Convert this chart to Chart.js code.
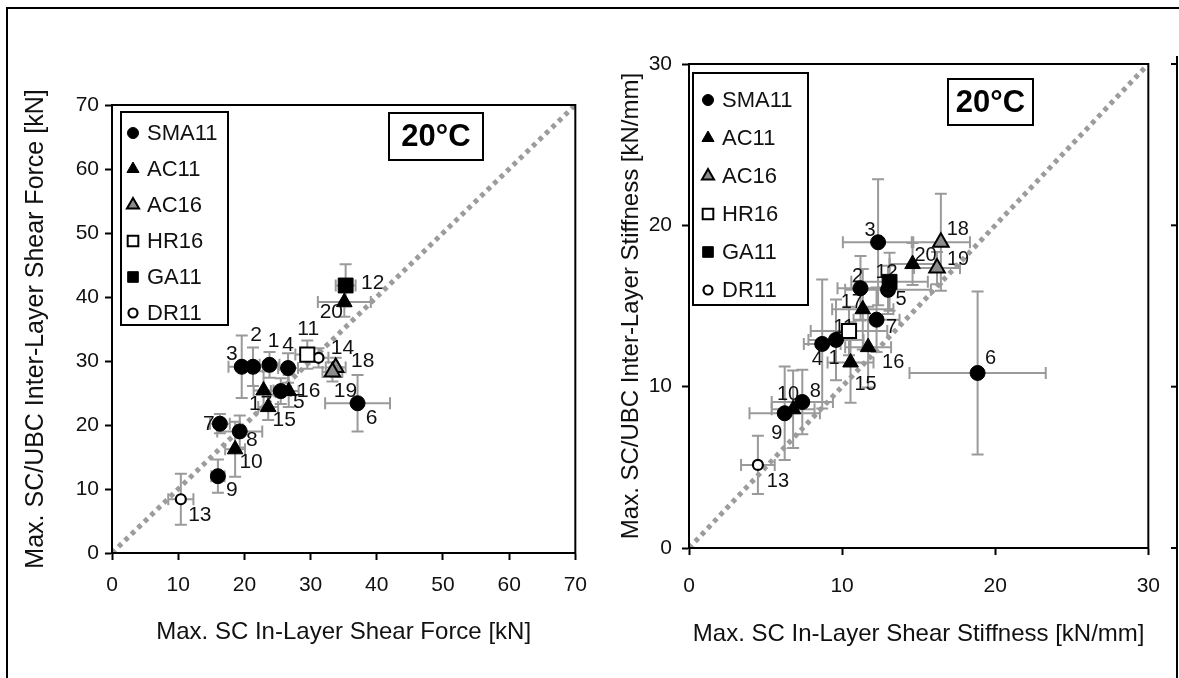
<!DOCTYPE html>
<html><head><meta charset="utf-8">
<script src="https://cdn.jsdelivr.net/npm/chart.js@4.4.1/dist/chart.umd.min.js"></script>
<style>
html,body{margin:0;padding:0;background:#fff;}
body{width:1179px;height:678px;position:relative;overflow:hidden;}
#c1{position:absolute;left:0;top:0;}
#c2{position:absolute;left:600px;top:0;}
.frame{position:absolute;left:6px;top:7px;width:1300px;height:800px;border-left:2px solid #000;border-top:2px solid #000;}
</style></head><body>
<div class="frame"></div>
<canvas id="c1" width="600" height="678" style="width:600px;height:678px"></canvas>
<canvas id="c2" width="579" height="678" style="width:579px;height:678px"></canvas>
<script>
// ---------------- DATA ----------------
const seriesNames = ['SMA11','AC11','AC16','HR16','GA11','DR11'];
const pointIds    = [1,2,3,4,5,6,7,8,9,10,11,12,13,14,15,16,17,18,19,20];
const pointGroups = ['SMA11','SMA11','SMA11','SMA11','SMA11','SMA11','SMA11','SMA11','SMA11','AC11',
                     'HR16','GA11','DR11','DR11','AC11','AC11','AC11','AC16','AC16','AC11'];

// Left panel: max shear force [kN]
const forceX    = [23.8,21.3,19.6,26.6,25.5,37.1,16.3,19.3,16.0,18.6,29.5,35.3,10.4,31.2,23.6,26.7,22.9,33.8,33.3,35.1];
const forceY    = [29.4,29.1,29.1,28.9,25.3,23.4,20.2,19.0,12.0,16.2,31.0,41.8, 8.4,30.5,22.8,25.3,25.4,29.0,28.3,39.2];
const forceXErr = [1.5,1.5,2.0,1.5,1.5,4.9,1.5,3.4,1.0,1.5,1.8,1.5,1.9,1.5,1.5,1.5,1.5,1.5,1.5,4.0];
const forceYErr = [2.0,3.0,4.9,2.3,2.0,4.4,1.5,2.5,2.6,4.3,2.2,3.3,4.0,1.5,2.0,2.5,3.0,1.5,1.5,2.3];

// Right panel: max shear stiffness [kN/mm]
const stiffX    = [9.6,11.2,12.35,8.7,13.0,18.85,12.25,7.4,6.25,6.8,10.45,13.1,4.5,null,10.55,11.7,11.35,16.45,16.2,14.6];
const stiffY    = [12.9,16.1,18.95,12.65,16.0,10.85,14.15,9.05,8.35,8.6,13.45,16.5,5.15,null,11.5,12.45,14.8,18.95,17.35,17.6];
const stiffXErr = [1.8,1.5,2.3,1.2,2.8,4.45,1.5,2.0,2.3,1.4,2.5,2.5,1.1,null,1.5,1.5,2.0,1.9,1.5,1.5];
const stiffYErr = [2.5,2.0,3.9,4.0,1.5,5.05,2.0,2.0,2.9,2.4,1.5,1.8,1.8,null,2.5,2.5,2.5,3.0,1.0,1.3];

const forceTicks = [0,10,20,30,40,50,60,70];
const stiffTicks = [0,10,20,30];
const tempLabel = '20°C';

// ---------------- STYLE ----------------
const FONT = '"Liberation Sans", Arial, Helvetica, sans-serif';
const GROUP_STYLE = {
  SMA11:{ps:'circle',  r:7.5, bg:'#000',    bd:'#000', bw:1,   lr:5.5},
  AC11: {ps:'triangle',r:9,   bg:'#000',    bd:'#000', bw:1,   lr:7},
  AC16: {ps:'triangle',r:9,   bg:'#8c8c8c', bd:'#000', bw:2,   lr:7},
  HR16: {ps:'rect',    r:10,  bg:'#fff',    bd:'#000', bw:2,   lr:7.5},
  GA11: {ps:'rect',    r:10.5,bg:'#000',    bd:'#000', bw:1,   lr:7.5},
  DR11: {ps:'circle',  r:5,   bg:'#fff',    bd:'#000', bw:2.2, lr:4.5}
};
const leftLabelOffsets = {1:[4,-24],2:[3,-32],3:[-10,-13],4:[0,-23],5:[18,11],6:[14,15],7:[-11,0],8:[12,9],
  9:[14,14],10:[16,13],11:[1,-25],12:[27,-2],13:[19,16],14:[24,-10],15:[16,13],16:[20,0],17:[-3,14],
  18:[27,-6],19:[13,19],20:[-13,10]};
const rightLabelOffsets = {1:[-2,19],2:[-3,-12],3:[-8,-12],4:[-5,16],5:[13,10],6:[13,-14],7:[15,8],8:[13,-11],
  9:[-8,20],10:[-5,-15],11:[-5,-4],12:[-3,-9],13:[20,17],15:[15,22],16:[25,15],17:[-11,-7],18:[17,-13],
  19:[21,-9],20:[13,-9]};

function buildDatasets(xs, ys, xe, ye, max){
  const sets = seriesNames.map(name => {
    const st = GROUP_STYLE[name];
    const data = [];
    pointIds.forEach((id,i) => {
      if (pointGroups[i] === name && xs[i] !== null && ys[i] !== null)
        data.push({x:xs[i], y:ys[i], xe:xe[i], ye:ye[i], id:id});
    });
    return {label:name, type:'scatter', data, isPoints:true, order:0,
      pointStyle:st.ps, pointRadius:st.r, pointHoverRadius:st.r,
      backgroundColor:st.bg, borderColor:st.bd, borderWidth:st.bw};
  });
  sets.push({label:'1:1', type:'line', data:[{x:0,y:0},{x:max,y:max}], order:5,
    borderColor:'#9c9c9c', borderWidth:5, borderDash:[4.5,4.5], pointRadius:0, fill:false});
  return sets;
}

const panelPlugin = {
  id:'panelPlugin',
  beforeDatasetsDraw(chart){
    const o = chart.options.plugins.panelPlugin;
    const {ctx, scales:{x,y}} = chart;
    ctx.save();
    // error bars
    ctx.strokeStyle = '#9a9a9a'; ctx.lineWidth = 2;
    const c = 6;
    chart.data.datasets.forEach(ds => {
      if (!ds.isPoints) return;
      ds.data.forEach(p => {
        const px = x.getPixelForValue(p.x), py = y.getPixelForValue(p.y);
        const x0 = x.getPixelForValue(p.x - p.xe), x1 = x.getPixelForValue(p.x + p.xe);
        const y0 = y.getPixelForValue(p.y - p.ye), y1 = y.getPixelForValue(p.y + p.ye);
        ctx.beginPath();
        ctx.moveTo(x0,py); ctx.lineTo(x1,py);
        ctx.moveTo(x0,py-c); ctx.lineTo(x0,py+c);
        ctx.moveTo(x1,py-c); ctx.lineTo(x1,py+c);
        ctx.moveTo(px,y0); ctx.lineTo(px,y1);
        ctx.moveTo(px-c,y0); ctx.lineTo(px+c,y0);
        ctx.moveTo(px-c,y1); ctx.lineTo(px+c,y1);
        ctx.stroke();
      });
    });
    // point id labels
    ctx.fillStyle = '#111'; ctx.font = o.labelFont + 'px ' + FONT;
    ctx.textAlign = 'center'; ctx.textBaseline = 'middle';
    chart.data.datasets.forEach(ds => {
      if (!ds.isPoints) return;
      ds.data.forEach(p => {
        const off = o.offsets[p.id] || [12,12];
        ctx.fillText(String(p.id), x.getPixelForValue(p.x) + off[0], y.getPixelForValue(p.y) + off[1]);
      });
    });
    ctx.restore();
  },
  afterDraw(chart){
    const o = chart.options.plugins.panelPlugin;
    const {ctx, chartArea:a} = chart;
    ctx.save();
    // plot frame
    ctx.strokeStyle = '#000'; ctx.lineWidth = 2;
    ctx.strokeRect(a.left, a.top, a.right - a.left, a.bottom - a.top);
    // legend
    const L = o.legend;
    const bx = a.left + L.x, by = a.top + L.y;
    ctx.fillStyle = '#fff'; ctx.fillRect(bx, by, L.w, L.h);
    ctx.strokeStyle = '#000'; ctx.lineWidth = 2; ctx.strokeRect(bx, by, L.w, L.h);
    seriesNames.forEach((name, i) => {
      const st = GROUP_STYLE[name];
      const cy = by + L.first + i * L.gap;
      ctx.save();
      ctx.fillStyle = st.bg; ctx.strokeStyle = st.bd; ctx.lineWidth = st.bw;
      Chart.helpers.drawPoint(ctx, {pointStyle:st.ps, rotation:0, radius:st.lr, borderWidth:st.bw}, bx + L.sym, cy);
      ctx.restore();
      ctx.fillStyle = '#111';
      ctx.font = L.font + 'px ' + FONT; ctx.textAlign = 'left'; ctx.textBaseline = 'middle';
      ctx.fillText(name, bx + L.text, cy + 1);
    });
    // temperature box
    const T = o.temp;
    const tx = a.left + T.x, ty = a.top + T.y;
    ctx.fillStyle = '#fff'; ctx.fillRect(tx, ty, T.w, T.h);
    ctx.strokeStyle = '#000'; ctx.lineWidth = 2; ctx.strokeRect(tx, ty, T.w, T.h);
    ctx.fillStyle = '#000'; ctx.font = 'bold ' + T.font + 'px ' + FONT;
    ctx.textAlign = 'center'; ctx.textBaseline = 'middle';
    ctx.fillText(tempLabel, tx + T.w / 2, ty + T.h / 2 + 1);
    // extra axis line at far right (right panel only)
    if (o.edgeLine) {
      const ex = o.edgeLine.x;
      ctx.strokeStyle = '#000'; ctx.lineWidth = 2;
      ctx.beginPath(); ctx.moveTo(ex, o.edgeLine.top); ctx.lineTo(ex, chart.height); ctx.stroke();
      chart.scales.y.ticks.forEach(t => {
        const py = chart.scales.y.getPixelForValue(t.value);
        ctx.beginPath(); ctx.moveTo(ex - 6, py); ctx.lineTo(ex, py); ctx.stroke();
      });
    }
    ctx.restore();
  }
};

function makeChart(id, cfg){
  return new Chart(document.getElementById(id), {
    data:{datasets:buildDatasets(cfg.xs, cfg.ys, cfg.xe, cfg.ye, cfg.max)},
    options:{
      responsive:false, animation:false, events:[],
      layout:{padding:cfg.pad},
      plugins:{legend:{display:false}, tooltip:{enabled:false},
        panelPlugin:{offsets:cfg.offsets, labelFont:cfg.labelFont, legend:cfg.legend, temp:cfg.temp, edgeLine:cfg.edgeLine}},
      scales:{
        x:{type:'linear', min:0, max:cfg.max,
          afterBuildTicks:s => { s.ticks = cfg.ticks.map(v => ({value:v})); },
          afterFit:s => { s.height = cfg.xAxisH; },
          grid:{drawOnChartArea:false, tickLength:7, tickColor:'#000', tickWidth:2},
          border:{display:true, color:'#000', width:2},
          ticks:{color:'#111', font:{family:FONT, size:21}, padding:cfg.xTickPad, maxRotation:0},
          title:{display:true, text:cfg.xTitle, color:'#111', font:{family:FONT, size:24}, padding:{top:0, bottom:cfg.xTitlePad}}
        },
        y:{type:'linear', min:0, max:cfg.max,
          afterBuildTicks:s => { s.ticks = cfg.ticks.map(v => ({value:v})); },
          afterFit:s => { s.width = cfg.yAxisW; },
          grid:{drawOnChartArea:false, tickLength:7, tickColor:'#000', tickWidth:2},
          border:{display:true, color:'#000', width:2},
          ticks:{color:'#111', font:{family:FONT, size:21}, padding:cfg.yTickPad},
          title:{display:true, text:cfg.yTitle, color:'#111', font:{family:FONT, size:cfg.yTitleSize}, padding:{top:cfg.yTitlePad, bottom:0}}
        }
      }
    },
    plugins:[panelPlugin]
  });
}

makeChart('c1', {
  xs:forceX, ys:forceY, xe:forceXErr, ye:forceYErr, max:70, ticks:forceTicks,
  pad:{left:0, top:105, right:22, bottom:0}, xAxisH:125, yAxisW:112,
  xTickPad:13, yTickPad:6, xTitlePad:31, yTitlePad:21, yTitleSize:25,
  xTitle:'Max. SC In-Layer Shear Force [kN]',
  yTitle:'Max. SC/UBC Inter-Layer Shear Force [kN]',
  offsets:leftLabelOffsets, labelFont:21,
  legend:{x:9, y:7, w:107, h:213, first:21, gap:36, sym:12, text:26, font:22},
  temp:{x:277, y:8, w:94, h:47, font:31}
});
makeChart('c2', {
  xs:stiffX, ys:stiffY, xe:stiffXErr, ye:stiffYErr, max:30, ticks:stiffTicks,
  pad:{left:0, top:64, right:21, bottom:0}, xAxisH:130, yAxisW:89,
  xTickPad:19, yTickPad:10, xTitlePad:29, yTitlePad:17, yTitleSize:24,
  xTitle:'Max. SC In-Layer Shear Stiffness [kN/mm]',
  yTitle:'Max. SC/UBC Inter-Layer Stiffness [kN/mm]',
  offsets:rightLabelOffsets, labelFont:20,
  legend:{x:4, y:9, w:115, h:232, first:27, gap:38, sym:15, text:29, font:22},
  temp:{x:259, y:15, w:85, h:46, font:31},
  edgeLine:{x:577, top:56}
});
</script>
</body></html>
